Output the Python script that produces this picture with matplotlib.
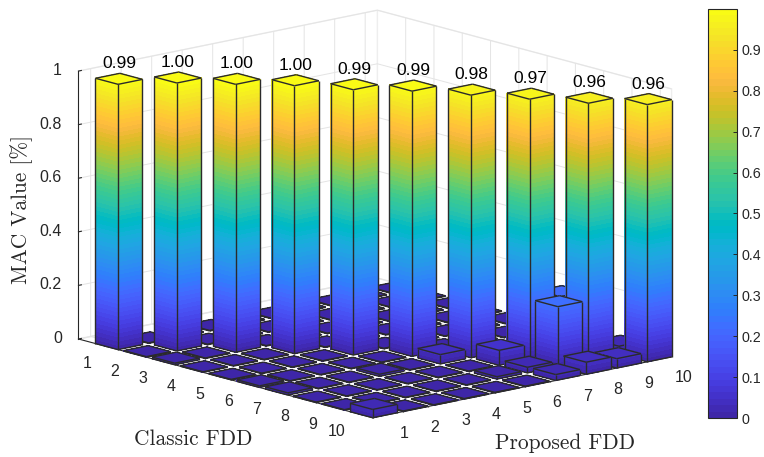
"""MAC matrix of classic vs. proposed FDD as 3D bars."""

import matplotlib

matplotlib.use("Agg")
import matplotlib.pyplot as plt
import numpy as np
from matplotlib.cm import ScalarMappable
from matplotlib.colors import ListedColormap, Normalize
from mpl_toolkits.mplot3d import proj3d
from mpl_toolkits.mplot3d.art3d import Line3DCollection, Poly3DCollection

modes = list(range(1, 11))
diag_values = [0.99, 1.00, 1.00, 1.00, 0.99, 0.99, 0.98, 0.97, 0.96, 0.96]
off_classic = [9, 8, 7, 8, 9, 10, 10, 10, 10, 9, 7, 3, 6, 7, 9]
off_proposed = [8, 9, 6, 7, 7, 7, 8, 9, 1, 6, 4, 1, 1, 1, 10]
off_values = [0.224, 0.21, 0.035, 0.056, 0.021, 0.022, 0.045, 0.035, 0.031, 0.009, 0.008, 0.006, 0.006, 0.008, 0.03]
floor_value = 0.002
z_ticks = [0, 0.2, 0.4, 0.6, 0.8, 1]
cbar_ticks = [0, 0.1, 0.2, 0.3, 0.4, 0.5, 0.6, 0.7, 0.8, 0.9]

PARULA = [
    [0.2422, 0.1504, 0.6603], [0.2504, 0.1650, 0.7076], [0.2578, 0.1818, 0.7511], [0.2647, 0.1978, 0.7952],
    [0.2706, 0.2147, 0.8364], [0.2751, 0.2342, 0.8710], [0.2783, 0.2559, 0.8991], [0.2803, 0.2782, 0.9221],
    [0.2813, 0.3006, 0.9414], [0.2810, 0.3228, 0.9579], [0.2795, 0.3447, 0.9717], [0.2760, 0.3667, 0.9829],
    [0.2699, 0.3892, 0.9906], [0.2602, 0.4123, 0.9952], [0.2440, 0.4358, 0.9988], [0.2206, 0.4603, 0.9973],
    [0.1963, 0.4847, 0.9892], [0.1834, 0.5074, 0.9798], [0.1786, 0.5289, 0.9682], [0.1764, 0.5499, 0.9520],
    [0.1687, 0.5703, 0.9359], [0.1540, 0.5902, 0.9218], [0.1460, 0.6091, 0.9079], [0.1380, 0.6276, 0.8973],
    [0.1248, 0.6459, 0.8883], [0.1113, 0.6635, 0.8763], [0.0952, 0.6798, 0.8598], [0.0689, 0.6948, 0.8394],
    [0.0297, 0.7082, 0.8163], [0.0036, 0.7203, 0.7917], [0.0067, 0.7312, 0.7660], [0.0433, 0.7411, 0.7394],
    [0.0964, 0.7500, 0.7120], [0.1408, 0.7584, 0.6842], [0.1717, 0.7670, 0.6554], [0.1938, 0.7758, 0.6251],
    [0.2161, 0.7843, 0.5923], [0.2470, 0.7918, 0.5567], [0.2906, 0.7973, 0.5188], [0.3406, 0.8008, 0.4789],
    [0.3909, 0.8029, 0.4354], [0.4456, 0.8024, 0.3909], [0.5044, 0.7993, 0.3480], [0.5616, 0.7942, 0.3045],
    [0.6174, 0.7876, 0.2612], [0.6720, 0.7793, 0.2227], [0.7242, 0.7698, 0.1910], [0.7738, 0.7598, 0.1646],
    [0.8203, 0.7498, 0.1535], [0.8634, 0.7406, 0.1596], [0.9035, 0.7330, 0.1774], [0.9393, 0.7288, 0.2100],
    [0.9728, 0.7298, 0.2394], [0.9956, 0.7434, 0.2371], [0.9970, 0.7659, 0.2199], [0.9952, 0.7893, 0.2028],
    [0.9892, 0.8136, 0.1885], [0.9786, 0.8386, 0.1766], [0.9676, 0.8639, 0.1643], [0.9610, 0.8890, 0.1537],
    [0.9597, 0.9135, 0.1423], [0.9628, 0.9373, 0.1265], [0.9691, 0.9606, 0.1064], [0.9769, 0.9839, 0.0805],
]

TEXT_COLOR = "#262626"
EDGE_COLOR = "#2b2b2b"
HALF_WIDTH = 0.4
FIG_W, FIG_H = 764, 457


def draw_bar(ax, px, cy, height, zorder):
    """Draw one bar, banded by height, plus its outline."""
    x0, x1 = px - HALF_WIDTH, px + HALF_WIDTH
    y0, y1 = cy - HALF_WIDTH, cy + HALF_WIDTH
    levels = np.append(np.arange(0, height, 1 / len(PARULA)), height)
    polys, colors = [], []
    for low, high in zip(levels[:-1], levels[1:]):
        color = cmap(norm((low + high) / 2))
        polys.append([(x0, y1, low), (x1, y1, low), (x1, y1, high), (x0, y1, high)])
        polys.append([(x0, y0, low), (x0, y1, low), (x0, y1, high), (x0, y0, high)])
        colors += [color, color]
    polys.append([(x0, y0, height), (x1, y0, height), (x1, y1, height), (x0, y1, height)])
    colors.append(cmap(norm(height)))
    ax.add_collection3d(
        Poly3DCollection(polys, facecolors=colors, edgecolors="none", linewidths=0, antialiased=False, zorder=zorder),
        autolim=False,
    )
    edges = [
        [(x0, y0, height), (x1, y0, height)],
        [(x1, y0, height), (x1, y1, height)],
        [(x1, y1, height), (x0, y1, height)],
        [(x0, y1, height), (x0, y0, height)],
        [(x0, y0, 0), (x0, y0, height)],
        [(x0, y1, 0), (x0, y1, height)],
        [(x1, y1, 0), (x1, y1, height)],
        [(x0, y0, 0), (x0, y1, 0)],
        [(x0, y1, 0), (x1, y1, 0)],
    ]
    ax.add_collection3d(
        Line3DCollection(edges, colors=EDGE_COLOR, linewidths=1.0, zorder=zorder + 0.5),
        autolim=False,
    )


plt.rcParams["font.family"] = ["Liberation Sans", "DejaVu Sans"]

cmap = ListedColormap(PARULA, name="parula")
norm = Normalize(0, 1)

mac = np.full((10, 10), floor_value)
for i, value in enumerate(diag_values):
    mac[i, i] = value
for c, p, value in zip(off_classic, off_proposed, off_values):
    mac[c - 1, p - 1] = value

fig = plt.figure(figsize=(FIG_W / 100, FIG_H / 100), dpi=100)
ax = fig.add_axes(
    [46.8 / FIG_W, -85.2 / FIG_H, 639.2 / FIG_W, 639.2 / FIG_H],
    projection="3d",
    proj_type="ortho",
    computed_zorder=False,
)
ax.view_init(elev=13.5, azim=228.9)
ax.set_box_aspect((396.7, 447.6, 275.6))
ax.patch.set_alpha(0)

# paint from the far corner (classic 1, proposed 10) to the near one
order = sorted(((c, p) for c in modes for p in modes), key=lambda cell: cell[0] - cell[1])
for n, (c, p) in enumerate(order):
    draw_bar(ax, p, c, mac[c - 1, p - 1], zorder=10 + n)

ax.set_xlim(0.6, 10.4)
ax.set_ylim(10.4, 0)
ax.set_zlim(0, 1)
ax.set_xticks(modes)
ax.set_yticks(modes)
ax.set_zticks(z_ticks)
ax.set_zticklabels(["0", "0.2", "0.4", "0.6", "0.8", "1"])
ax.tick_params(labelsize=11.5, labelcolor=TEXT_COLOR, colors=TEXT_COLOR)
ax.tick_params(axis="x", pad=4.5)
ax.tick_params(axis="y", pad=4.5)
ax.tick_params(axis="z", pad=-1.3)

# value labels as 2D annotations at the projected bar tops
proj = ax.get_proj()
for i, value in enumerate(diag_values):
    top_x, top_y, _ = proj3d.proj_transform(modes[i], modes[i], value, proj)
    ax.annotate(
        f"{value:.2f}", xy=(top_x, top_y), xytext=(0, 10.8), textcoords="offset points",
        ha="center", va="center", fontsize=12.5, color="black", zorder=500,
    )

# matlab puts these off-centre from the tick
for label in ax.get_xticklabels():
    label.set_ha("left")
    label.set_va("center")
for label in ax.get_yticklabels():
    label.set_ha("right")
    label.set_va("center")
for label in ax.get_zticklabels():
    label.set_ha("right")
    label.set_va("center")

for axis in (ax.xaxis, ax.yaxis, ax.zaxis):
    axis.pane.set_facecolor("white")
    axis.pane.set_edgecolor("#dedede")
    axis.line.set_color(TEXT_COLOR)
    axis.line.set_linewidth(0.8)
    axis._axinfo["grid"].update(color="#e4e4e4", linewidth=0.7)
    axis._axinfo["tick"].update(inward_factor=0, outward_factor=0.12, linewidth={True: 0.8, False: 0.5})

fig.text(193 / FIG_W, 1 - 439 / FIG_H, "Classic FDD", family="cmr10", fontsize=15.4, color=TEXT_COLOR, ha="center", va="center")
fig.text(565 / FIG_W, 1 - 443 / FIG_H, "Proposed FDD", family="cmr10", fontsize=15.4, color=TEXT_COLOR, ha="center", va="center")
fig.text(22 / FIG_W, 1 - 210 / FIG_H, "MAC Value [%]", family="cmr10", fontsize=15.4, color=TEXT_COLOR, ha="center", va="center", rotation=90)

cax = fig.add_axes([708 / FIG_W, 1 - 418 / FIG_H, 29 / FIG_W, 409 / FIG_H])
cbar = fig.colorbar(ScalarMappable(norm=norm, cmap=cmap), cax=cax, ticks=cbar_ticks)
cbar.ax.set_yticklabels([f"{t:g}" for t in cbar_ticks])
cbar.ax.tick_params(direction="in", length=3, width=0.7, labelsize=10.3, labelcolor=TEXT_COLOR, color=TEXT_COLOR, pad=3.5)
cbar.outline.set_edgecolor(TEXT_COLOR)
cbar.outline.set_linewidth(0.8)

fig.savefig("out.png", dpi=100)
